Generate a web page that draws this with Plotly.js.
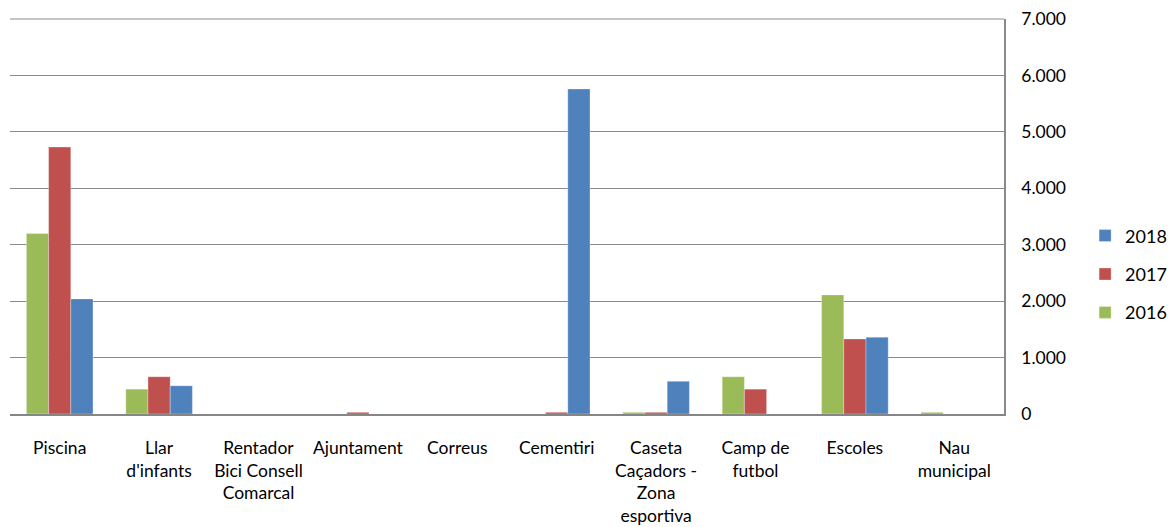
<!DOCTYPE html>
<html>
<head>
<meta charset="utf-8">
<script src="https://cdn.plot.ly/plotly-3.0.1.min.js"></script>
<style>html,body{margin:0;padding:0;background:#fff;}#chart{width:1175px;height:527px;}</style>
</head>
<body>
<div id="chart"></div>
<script>
const categories = ["Piscina", "Llar<br>d'infants", "Rentador<br>Bici Consell<br>Comarcal", "Ajuntament", "Correus", "Cementiri", "Caseta<br>Caçadors -<br>Zona<br>esportiva", "Camp de<br>futbol", "Escoles", "Nau<br>municipal"];
const values2016 = [3200, 440, 0, 0, 0, 0, 30, 660, 2110, 30];
const values2017 = [4730, 660, 0, 30, 0, 30, 30, 440, 1330, 0];
const values2018 = [2040, 500, 0, 0, 0, 5760, 580, 0, 1360, 0];
const seriesNames = ["2016", "2017", "2018"];
const seriesColors = ["#9BBB59", "#C0504D", "#4F81BD"];
const legendRanks = [3, 2, 1];
const yTicks = [0, 1000, 2000, 3000, 4000, 5000, 6000, 7000];

const allValues = [values2016, values2017, values2018];
const traces = allValues.map((vals, i) => ({
  type: 'bar',
  name: seriesNames[i],
  x: categories,
  y: vals,
  legendgroup: 'g' + i,
  legendrank: legendRanks[i],
  marker: {color: seriesColors[i], line: {color: 'rgba(255,255,255,0.5)', width: 0.6}},
  hoverinfo: 'x+y+name'
}));

const layout = {
  width: 1175,
  height: 527,
  margin: {l: 10, r: 171, t: 19, b: 113},
  paper_bgcolor: '#ffffff',
  plot_bgcolor: '#ffffff',
  separators: ',.',
  font: {family: 'Lato, "Liberation Sans", sans-serif', size: 17.5, color: '#000000'},
  barmode: 'group',
  bargap: 0.33,
  bargroupgap: 0,
  showlegend: true,
  legend: {
    xref: 'container', yref: 'container',
    x: 0.9235, xanchor: 'left', y: 0.5875, yanchor: 'top',
    traceorder: 'grouped',
    tracegroupgap: 12,
    font: {size: 18, color: '#000000'},
    itemwidth: 30,
    bgcolor: 'rgba(0,0,0,0)'
  },
  shapes: [{
    type: 'line', xref: 'paper', yref: 'paper', x0: 0, x1: 1, y0: 1, y1: 1,
    line: {color: '#8a8a8a', width: 1}
  }],
  xaxis: {
    type: 'category',
    showgrid: false,
    showline: true,
    linecolor: '#868686',
    linewidth: 1.5,
    ticks: '',
    tickangle: 0,
    ticklabelstandoff: 17,
    tickfont: {size: 17.5},
    automargin: false
  },
  yaxis: {
    side: 'right',
    range: [0, 7000],
    tickvals: yTicks,
    tickformat: ',d',
    showgrid: true,
    gridcolor: '#8a8a8a',
    gridwidth: 1,
    zeroline: false,
    showline: true,
    linecolor: '#8a8a8a',
    linewidth: 1.5,
    ticks: '',
    ticklabelstandoff: 12,
    tickfont: {size: 17.5},
    automargin: false
  }
};

Plotly.newPlot('chart', traces, layout, {displayModeBar: false, responsive: false});
</script>
</body>
</html>
